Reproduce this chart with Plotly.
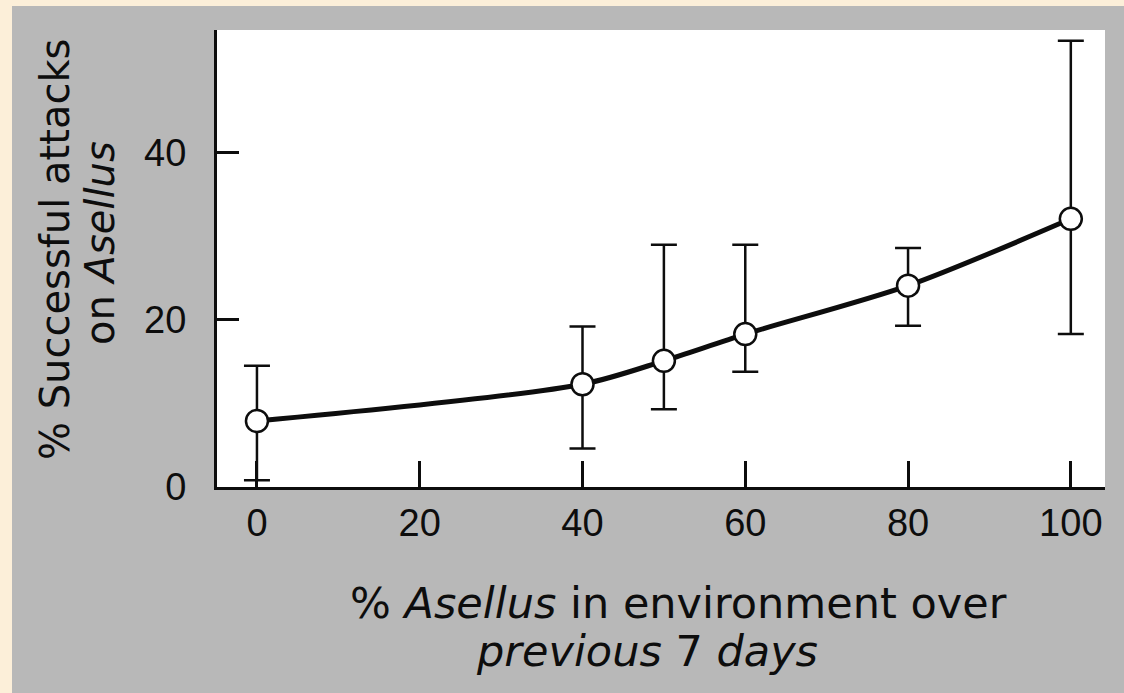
import plotly.graph_objects as go

# ---- data ----
asellus_env = [0, 40, 50, 60, 80, 100]
success_pct = [7.9, 12.3, 15.1, 18.3, 24.1, 32.1]
upper_limit = [14.5, 19.2, 29.0, 29.0, 28.6, 53.4]
lower_limit = [0.8, 4.6, 9.3, 13.8, 19.3, 18.3]
x_ticks = [0, 20, 40, 60, 80, 100]
y_ticks = [0, 20, 40]

err_plus = [u - v for u, v in zip(upper_limit, success_pct)]
err_minus = [v - l for l, v in zip(lower_limit, success_pct)]

W, H = 1124, 693
L, R, T, B = 217, 19, 30, 206
PW, PH = W - L - R, H - T - B


def px_x(px):
    return (px - L) / PW


def px_y(py):
    return (H - B - py) / PH


GRAY = "#b8b8b8"
CREAM = "#fcefd9"
INK = "#0d0d0d"
TICKFONT = dict(family="Liberation Sans, Arial, sans-serif", size=38, color=INK)
YTITLEFONT = dict(family="DejaVu Sans, sans-serif", size=40, color=INK)
XTITLEFONT = dict(family="DejaVu Sans, sans-serif", size=43, color=INK)

fig = go.Figure()
fig.add_trace(go.Scatter(
    x=asellus_env, y=success_pct,
    mode="lines+markers",
    line=dict(color=INK, width=5, shape="spline", smoothing=0.8),
    marker=dict(symbol="circle", size=22, color="white",
                line=dict(color=INK, width=2.5)),
    error_y=dict(type="data", symmetric=False, array=err_plus,
                 arrayminus=err_minus, color=INK, thickness=2.5, width=13),
    showlegend=False,
    cliponaxis=False,
))

fig.update_xaxes(
    range=[-4.91, 104.2], tickvals=x_ticks, ticks="inside", ticklen=26,
    tickwidth=2.5, tickcolor=INK, showline=True, linecolor=INK, linewidth=3,
    showgrid=False, zeroline=False, tickfont=TICKFONT, ticklabelstandoff=0,
)
fig.update_yaxes(
    range=[0, 54.7], tickvals=y_ticks, ticks="inside", ticklen=22,
    tickwidth=2.5, tickcolor=INK, showline=True, linecolor=INK, linewidth=3,
    showgrid=False, zeroline=False, tickfont=TICKFONT, ticklabelstandoff=20,
)

shapes = [
    # cream page strips (left and top)
    dict(type="rect", xref="paper", yref="paper", layer="above",
         x0=px_x(0), x1=px_x(12), y0=px_y(H), y1=px_y(0),
         fillcolor=CREAM, line=dict(width=0)),
    dict(type="rect", xref="paper", yref="paper", layer="above",
         x0=px_x(0), x1=px_x(W), y0=px_y(6), y1=px_y(0),
         fillcolor=CREAM, line=dict(width=0)),
]

annotations = [
    dict(text="% Successful attacks", x=px_x(55), y=px_y(250),
         textangle=-90, font=YTITLEFONT),
    dict(text="on <i>Asellus</i>", x=px_x(100), y=px_y(243),
         textangle=-90, font=YTITLEFONT),
    dict(text="% <i>Asellus</i> in environment over", x=px_x(678),
         y=px_y(603), font=XTITLEFONT),
    dict(text="<i>previous</i> 7 <i>days</i>", x=px_x(647), y=px_y(651),
         font=XTITLEFONT),
]
for a in annotations:
    a.update(xref="paper", yref="paper", showarrow=False,
             xanchor="center", yanchor="middle")

fig.update_layout(
    width=W, height=H,
    margin=dict(l=L, r=R, t=T, b=B),
    paper_bgcolor=GRAY, plot_bgcolor="white",
    shapes=shapes, annotations=annotations,
)

fig.write_html(
    "out.html",
    config={"displayModeBar": False},
    post_script="document.body.style.margin='0px';"
                "document.body.style.overflow='hidden';"
                "document.body.style.background='" + GRAY + "';",
)
